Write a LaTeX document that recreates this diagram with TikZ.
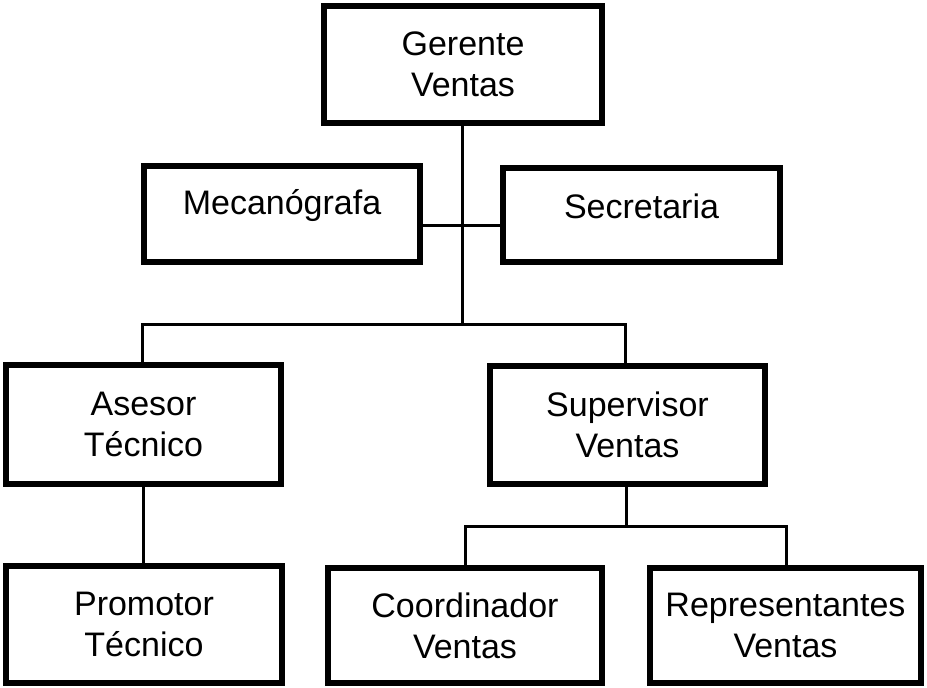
\documentclass[tikz,border=0pt]{standalone}
\usepackage{fontspec}
\setmainfont{Liberation Sans}
\begin{document}
\begin{tikzpicture}[x=1pt,y=-1pt,
  box/.style={draw=black, line width=6pt, fill=white, inner sep=0pt,
    align=center, font=\fontsize{34}{41}\selectfont},
  label/.style={inner sep=0pt, font=\fontsize{34}{41}\selectfont},
  link/.style={draw=black, line width=3pt}]
  \useasboundingbox (0,0) rectangle (927,688);

  % top level
  \node[box, minimum width=278pt, minimum height=117pt] (gerente) at (463,64.5) {Gerente\\Ventas};

  % staff boxes, their labels sit above the middle
  \node[box, minimum width=276pt, minimum height=96pt] (meca) at (282,214) {};
  \node[label] (mecaT) at (282,206) {Mecanógrafa};
  \node[box, minimum width=277pt, minimum height=94pt] (secre) at (641.5,215) {};
  \node[label] (secreT) at (641.5,206) {Secretaria};

  % second level
  \node[box, minimum width=275pt, minimum height=119pt] (asesor) at (143.5,424.5) {Asesor\\Técnico};
  \node[box, minimum width=275pt, minimum height=118pt] (super) at (627.5,425) {Supervisor\\Ventas};

  % third level
  \node[box, minimum width=276pt, minimum height=117pt] (promo) at (144,624.5) {Promotor\\Técnico};
  \node[box, minimum width=274pt, minimum height=115pt] (coord) at (465,625.5) {Coordinador\\Ventas};
  \node[box, minimum width=271pt, minimum height=115pt] (repre) at (785.5,625.5) {Representantes\\Ventas};

  % bus junctions
  \coordinate (busA) at (462,324);
  \coordinate (busB) at (626,526);

  % connectors
  \draw[link] (meca.east |- 0,225) -- (secre.west |- 0,225);
  \draw[link] (gerente.south -| busA) -- (busA);
  \draw[link] (asesor.north -| 142,0) |- (busA) -| (super.north -| 625,0);
  \draw[link] (asesor.south -| 143,0) -- (promo.north -| 143,0);
  \draw[link] (super.south -| busB) -- (busB);
  \draw[link] (coord.north -| 465,0) |- (busB) -| (repre.north -| 786,0);
\end{tikzpicture}
\end{document}
